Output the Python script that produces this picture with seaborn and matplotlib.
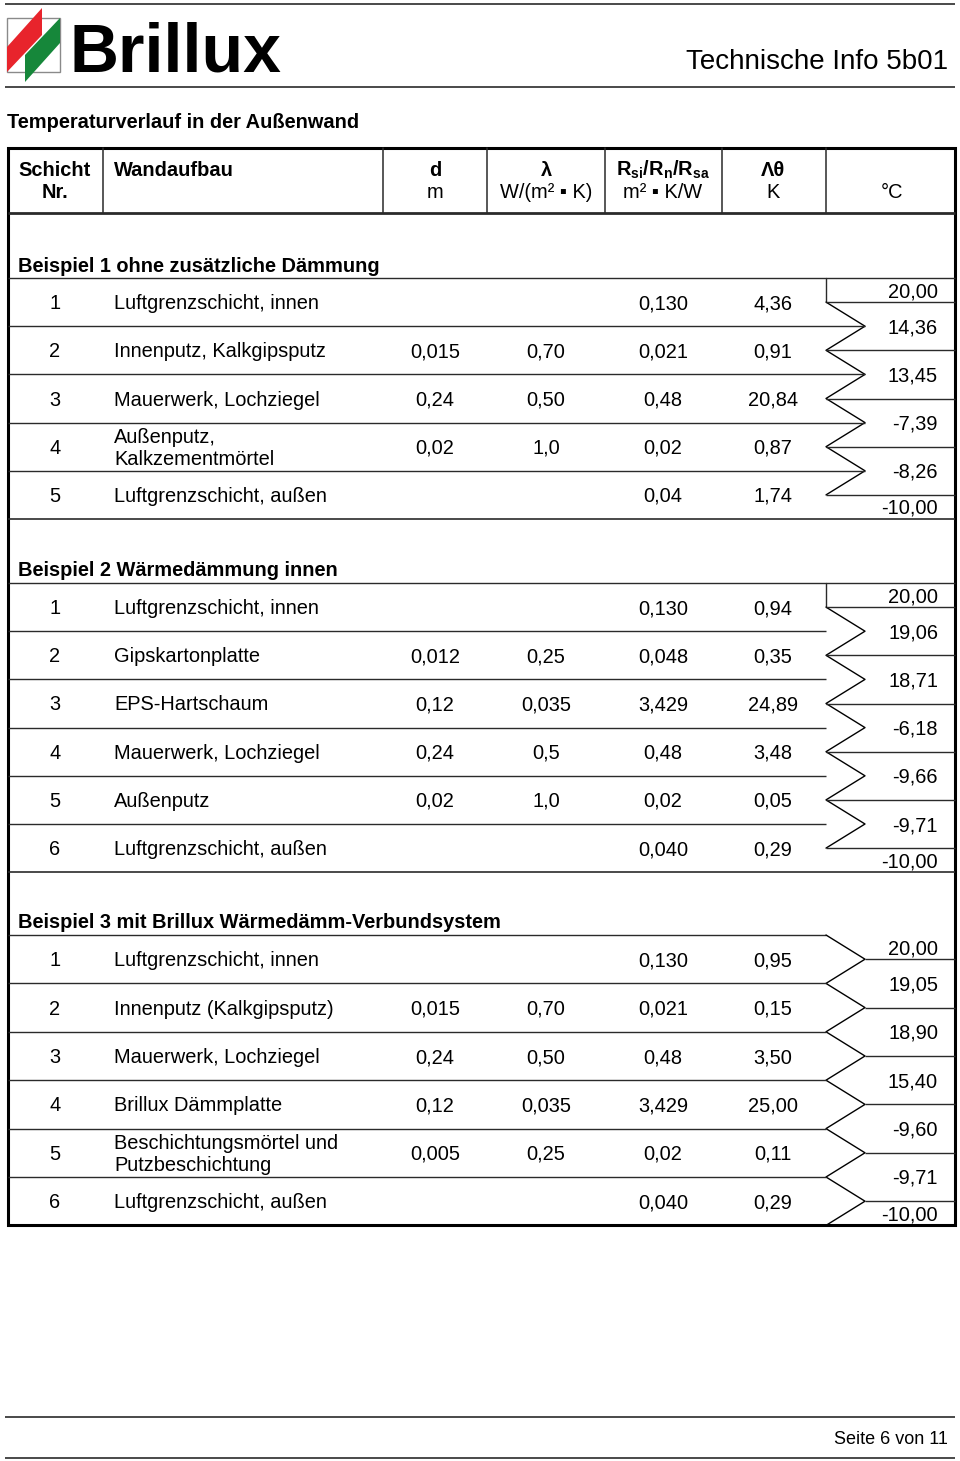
import matplotlib
matplotlib.use('Agg')
import matplotlib.pyplot as plt
import seaborn as sns
import pandas as pd
from matplotlib.patches import Polygon, Rectangle

sns.set_theme(style='white')
plt.rcParams['font.family'] = ['Liberation Sans', 'DejaVu Sans']
plt.rcParams['text.color'] = 'black'
plt.rcParams['mathtext.fontset'] = 'custom'
plt.rcParams['mathtext.rm'] = 'Liberation Sans'
plt.rcParams['mathtext.bf'] = 'Liberation Sans:bold'

# --- data -------------------------------------------------------------
b1_title = 'Beispiel 1 ohne zusätzliche Dämmung'
b1_nr = [1, 2, 3, 4, 5]
b1_layer = ['Luftgrenzschicht, innen', 'Innenputz, Kalkgipsputz', 'Mauerwerk, Lochziegel',
            'Außenputz,\nKalkzementmörtel', 'Luftgrenzschicht, außen']
b1_d = ['', '0,015', '0,24', '0,02', '']
b1_lam = ['', '0,70', '0,50', '1,0', '']
b1_r = ['0,130', '0,021', '0,48', '0,02', '0,04']
b1_dt = ['4,36', '0,91', '20,84', '0,87', '1,74']
b1_temp = ['20,00', '14,36', '13,45', '-7,39', '-8,26', '-10,00']

b2_title = 'Beispiel 2 Wärmedämmung innen'
b2_nr = [1, 2, 3, 4, 5, 6]
b2_layer = ['Luftgrenzschicht, innen', 'Gipskartonplatte', 'EPS-Hartschaum',
            'Mauerwerk, Lochziegel', 'Außenputz', 'Luftgrenzschicht, außen']
b2_d = ['', '0,012', '0,12', '0,24', '0,02', '']
b2_lam = ['', '0,25', '0,035', '0,5', '1,0', '']
b2_r = ['0,130', '0,048', '3,429', '0,48', '0,02', '0,040']
b2_dt = ['0,94', '0,35', '24,89', '3,48', '0,05', '0,29']
b2_temp = ['20,00', '19,06', '18,71', '-6,18', '-9,66', '-9,71', '-10,00']

b3_title = 'Beispiel 3 mit Brillux Wärmedämm-Verbundsystem'
b3_nr = [1, 2, 3, 4, 5, 6]
b3_layer = ['Luftgrenzschicht, innen', 'Innenputz (Kalkgipsputz)', 'Mauerwerk, Lochziegel',
            'Brillux Dämmplatte', 'Beschichtungsmörtel und\nPutzbeschichtung',
            'Luftgrenzschicht, außen']
b3_d = ['', '0,015', '0,24', '0,12', '0,005', '']
b3_lam = ['', '0,70', '0,50', '0,035', '0,25', '']
b3_r = ['0,130', '0,021', '0,48', '3,429', '0,02', '0,040']
b3_dt = ['0,95', '0,15', '3,50', '25,00', '0,11', '0,29']
b3_temp = ['20,00', '19,05', '18,90', '15,40', '-9,60', '-9,71', '-10,00']

# --- layout -----------------------------------------------------------
FS = 14.4
DY = 1.5      # text sits a touch lower than the geometric centre
L, R = 8, 955
XC = 826      # left edge of the temperature column
XZ = 865      # zigzag peak
X_NR, X_TXT, X_D, X_LAM, X_R, X_DT, X_T = 55, 114, 435, 546, 663, 773, 938
LINE = '#2a2a2a'

fig = plt.figure(figsize=(9.6, 14.61), dpi=100)
ax = fig.add_axes([0, 0, 1, 1])


def hline(x0, x1, y, lw=1.0):
    ax.plot([x0, x1], [y, y], color=LINE, lw=lw, solid_capstyle='butt')


def zigzag(xs, ys):
    df = pd.DataFrame({'x': xs, 'y': ys})
    sns.lineplot(data=df, x='x', y='y', sort=False, estimator=None,
                 color='black', lw=1.0, ax=ax)


def section(top, h, title, nr, layer, d, lam, r, dt, temp, style):
    n = len(nr)
    bounds = [top + i * h for i in range(n + 1)]
    centers = [top + (i + 0.5) * h for i in range(n)]
    ax.text(18, top - 12, title, fontsize=FS, fontweight='bold', va='center')
    for i in range(n):
        y = centers[i] + DY
        ax.text(X_NR, y, str(nr[i]), fontsize=FS, ha='center', va='center')
        ax.text(X_TXT, y, layer[i], fontsize=FS, ha='left', va='center', linespacing=1.2)
        ax.text(X_D, y, d[i], fontsize=FS, ha='center', va='center')
        ax.text(X_LAM, y, lam[i], fontsize=FS, ha='center', va='center')
        ax.text(X_R, y, r[i], fontsize=FS, ha='center', va='center')
        ax.text(X_DT, y, dt[i], fontsize=FS, ha='center', va='center')
    ty = [top + h / 4] + bounds[1:-1] + [bounds[-1] - h / 4]
    for t, y in zip(temp, ty):
        ax.text(X_T, y + DY, t, fontsize=FS, ha='right', va='center')

    if style in ('a', 'b'):
        hline(L, R, top)
        ax.plot([XC, XC], [top, centers[0]], color=LINE, lw=1.0)
        xs, ys = [], []
        for i in range(n):
            xs.append(XC)
            ys.append(centers[i])
            if i < n - 1:
                xs.append(XZ)
                ys.append(bounds[i + 1])
        zigzag(xs, ys)
        for c in centers:
            hline(XC, R, c)
        x_end = XZ if style == 'a' else XC
        for b in bounds[1:-1]:
            hline(L, x_end, b)
        hline(L, R, bounds[-1], lw=1.2)
    else:
        hline(L, XC, top)
        xs, ys = [XC], [top]
        for i in range(n):
            xs += [XZ, XC]
            ys += [centers[i], bounds[i + 1]]
        zigzag(xs, ys)
        for c in centers:
            hline(XZ, R, c)
        for b in bounds[1:-1]:
            hline(L, XC, b)


# --- page head --------------------------------------------------------
hline(5, R, 4, lw=1.2)
hline(5, R, 87, lw=1.2)
ax.add_patch(Rectangle((7, 18), 53, 54, fill=False, ec='#8a8a8a', lw=1.0))
ax.add_patch(Polygon([(7, 47), (42, 8), (42, 35), (7, 72)], closed=True,
                     fc='#e8242c', ec='none'))
ax.add_patch(Polygon([(25, 55), (60, 18), (60, 43), (25, 82)], closed=True,
                     fc='#16873a', ec='none'))
ax.text(69, 71, 'Brillux', fontsize=49, fontweight='bold', color='black', va='baseline')
ax.text(948, 62, 'Technische Info 5b01', fontsize=20, ha='right', va='center',
        family=['Liberation Sans Narrow', 'Liberation Sans'])
ax.text(7, 122, 'Temperaturverlauf in der Außenwand', fontsize=FS, fontweight='bold',
        va='center')

# --- table head -------------------------------------------------------
for x in [103, 383, 487, 605, 722, 826]:
    ax.plot([x, x], [148, 213], color=LINE, lw=1.1)
hline(L, R, 213, lw=2.0)
ax.text(X_NR, 170, 'Schicht', fontsize=FS, fontweight='bold', ha='center', va='center')
ax.text(X_NR, 193, 'Nr.', fontsize=FS, fontweight='bold', ha='center', va='center')
ax.text(X_TXT, 170, 'Wandaufbau', fontsize=FS, fontweight='bold', ha='left', va='center')
ax.text(X_D, 170, 'd', fontsize=FS, fontweight='bold', ha='center', va='center')
ax.text(X_D, 193, 'm', fontsize=FS, ha='center', va='center')
ax.text(X_LAM, 170, 'λ', fontsize=FS, fontweight='bold', ha='center', va='center')
ax.text(X_LAM, 193, 'W/(m² ▪ K)', fontsize=FS, ha='center', va='center')
ax.text(X_R, 170, r'$\mathbf{R_{si}/R_{n}/R_{sa}}$', fontsize=FS, ha='center', va='center')
ax.text(X_R, 193, 'm² ▪ K/W', fontsize=FS, ha='center', va='center')
ax.text(X_DT, 170, 'Λθ', fontsize=FS, fontweight='bold', ha='center', va='center')
ax.text(X_DT, 193, 'K', fontsize=FS, ha='center', va='center')
ax.text(892, 193, '°C', fontsize=FS, ha='center', va='center')

# --- sections ---------------------------------------------------------
section(278, 48.2, b1_title, b1_nr, b1_layer, b1_d, b1_lam, b1_r, b1_dt, b1_temp, 'a')
section(583, 48.2, b2_title, b2_nr, b2_layer, b2_d, b2_lam, b2_r, b2_dt, b2_temp, 'b')
section(935, 48.4, b3_title, b3_nr, b3_layer, b3_d, b3_lam, b3_r, b3_dt, b3_temp, 'c')

ax.add_patch(Rectangle((L, 148), R - L, 1225.4 - 148, fill=False, ec='black', lw=2.2))

# --- footer -----------------------------------------------------------
hline(5, R, 1417, lw=1.2)
hline(5, R, 1458, lw=1.2)
ax.text(948, 1440, 'Seite 6 von 11', fontsize=13, ha='right', va='center')

ax.set_xlim(0, 960)
ax.set_ylim(1461, 0)
ax.axis('off')
fig.savefig('out.png', dpi=100)
